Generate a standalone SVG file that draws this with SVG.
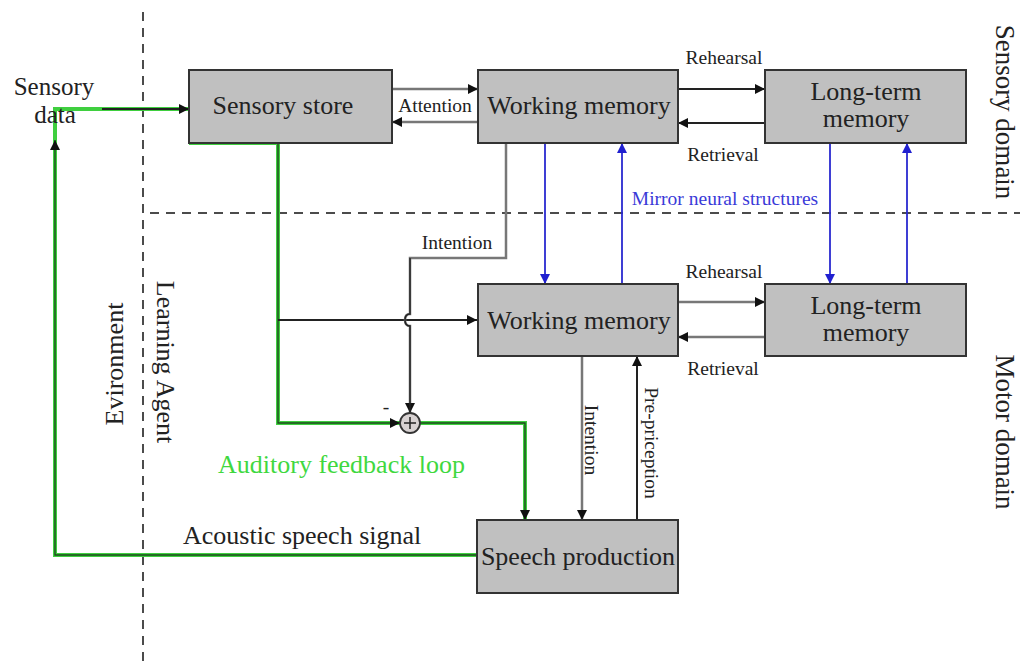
<svg xmlns="http://www.w3.org/2000/svg" width="1020" height="667" viewBox="0 0 1020 667">
  <style>
    text { font-family: "Liberation Serif", "Times New Roman", serif; fill: #222; }
    .big { font-size: 26px; }
    .small { font-size: 19.5px; }
    .box { fill: #c0c0c0; stroke: #333; stroke-width: 2; }
    .divider { fill: none; stroke: #111; stroke-width: 1.5; stroke-dasharray: 9 7; }
    .link { fill: none; stroke: #222; stroke-width: 2; }
    .grey { fill: none; stroke: #777; stroke-width: 2.5; }
    .mirror { fill: none; stroke: #2a2ad0; stroke-width: 1.8; }
    .loop { fill: none; stroke: #3fcf3f; stroke-width: 4; }
    .core { fill: none; stroke: #1e4a1e; stroke-width: 1.4; }
  </style>
  <defs>
    <marker id="arrow" viewBox="0 0 10 10" refX="10" refY="5" markerWidth="10" markerHeight="10" markerUnits="userSpaceOnUse" orient="auto">
      <path d="M0,0 L10,5 L0,10 z" fill="#111"/>
    </marker>
    <marker id="arrowBlue" viewBox="0 0 10 10" refX="10" refY="5" markerWidth="10" markerHeight="10" markerUnits="userSpaceOnUse" orient="auto">
      <path d="M0,0 L10,5 L0,10 z" fill="#2020d0"/>
    </marker>
  </defs>

  <rect width="1020" height="667" fill="#fff"/>

  <!-- boundaries: environment / agent, sensory / motor -->
  <g id="dividers">
    <line class="divider" x1="143" y1="12" x2="143" y2="667"/>
    <line class="divider" x1="150" y1="213" x2="1020" y2="213"/>
  </g>

  <!-- connectors -->
  <g id="connectors">
    <!-- auditory feedback loop -->
    <path class="loop" d="M477,555 H55 V109 H189"/>
    <path class="loop" d="M189,143 H278 V423 H400"/>
    <path class="loop" d="M420,423 H525 V520"/>
    <path class="core" d="M477,555 H55 V140" marker-end="url(#arrow)"/>
    <path class="link" d="M102,109 H189" marker-end="url(#arrow)"/>
    <path class="core" d="M278,143 V423 H400" marker-end="url(#arrow)"/>
    <path class="core" d="M420,423 H525 V520" marker-end="url(#arrow)"/>
    <path class="link" stroke-width="1.4" d="M278,320 H477" marker-end="url(#arrow)"/>

    <!-- attention -->
    <path class="grey" d="M392,89 H478" marker-end="url(#arrow)"/>
    <path class="grey" d="M478,122 H392" marker-end="url(#arrow)"/>

    <!-- sensory rehearsal / retrieval -->
    <path class="link" d="M678,89 H765" marker-end="url(#arrow)"/>
    <path class="link" d="M765,123 H678" marker-end="url(#arrow)"/>

    <!-- motor rehearsal / retrieval -->
    <path class="grey" stroke="#555" d="M678,302 H765" marker-end="url(#arrow)"/>
    <path class="grey" stroke="#555" d="M765,337 H678" marker-end="url(#arrow)"/>

    <!-- intention from sensory working memory to comparator -->
    <path class="grey" stroke-width="2" d="M506,143 V258 H410 V314 Q405,314 405,320 Q405,326 410,326 V413" marker-end="url(#arrow)"/>
    <path d="M410,258 V314 Q405,314 405,320 Q405,326 410,326 V413" fill="none" stroke="#222" stroke-width="1.4"/>

    <!-- mirror neural structures -->
    <path class="mirror" d="M545,143 V284" marker-end="url(#arrowBlue)"/>
    <path class="mirror" stroke="#5050e0" d="M622,284 V143" marker-end="url(#arrowBlue)"/>
    <path class="mirror" d="M830,143 V284" marker-end="url(#arrowBlue)"/>
    <path class="mirror" stroke="#5050e0" d="M907,284 V143" marker-end="url(#arrowBlue)"/>

    <!-- intention / pre-priception between motor memory and speech production -->
    <path class="grey" stroke="#666" stroke-width="2" d="M582,356 V520" marker-end="url(#arrow)"/>
    <path class="link" d="M637,520 V356" marker-end="url(#arrow)"/>
  </g>

  <!-- comparator -->
  <g id="comparator">
    <circle cx="410" cy="423" r="10" fill="#d8d2d2" stroke="#333" stroke-width="1.8"/>
    <path d="M404,423 H416 M410,417 V429" stroke="#222" stroke-width="1.5"/>
    <text x="386" y="413" class="small" text-anchor="middle">-</text>
  </g>

  <!-- nodes -->
  <g id="sensory-store">
    <rect class="box" x="189" y="70" width="203" height="73"/>
    <text class="big" x="283" y="114" text-anchor="middle">Sensory store</text>
  </g>
  <g id="working-memory-sensory">
    <rect class="box" x="478" y="70" width="200" height="73"/>
    <text class="big" x="579" y="114" text-anchor="middle">Working memory</text>
  </g>
  <g id="long-term-memory-sensory">
    <rect class="box" x="765" y="70" width="201" height="73"/>
    <text class="big" x="866" y="100" text-anchor="middle">Long-term</text>
    <text class="big" x="866" y="127" text-anchor="middle">memory</text>
  </g>
  <g id="working-memory-motor">
    <rect class="box" x="478" y="284" width="200" height="72"/>
    <text class="big" x="579" y="329" text-anchor="middle">Working memory</text>
  </g>
  <g id="long-term-memory-motor">
    <rect class="box" x="765" y="284" width="201" height="72"/>
    <text class="big" x="866" y="314" text-anchor="middle">Long-term</text>
    <text class="big" x="866" y="341" text-anchor="middle">memory</text>
  </g>
  <g id="speech-production">
    <rect class="box" x="477" y="520" width="201" height="73"/>
    <text class="big" x="578" y="565" text-anchor="middle">Speech production</text>
  </g>

  <!-- labels -->
  <g id="labels">
    <text class="big" x="54" y="95" text-anchor="middle" style="font-size:25px">Sensory</text>
    <text class="big" x="55" y="123" text-anchor="middle" style="font-size:25px">data</text>
    <text class="small" x="435" y="112" text-anchor="middle">Attention</text>
    <text class="small" x="724" y="64" text-anchor="middle">Rehearsal</text>
    <text class="small" x="723" y="161" text-anchor="middle">Retrieval</text>
    <text class="small" x="724" y="278" text-anchor="middle">Rehearsal</text>
    <text class="small" x="723" y="375" text-anchor="middle">Retrieval</text>
    <text class="small" x="457" y="249" text-anchor="middle">Intention</text>
    <text class="small" x="725" y="205" text-anchor="middle" style="fill:#3a3ad8">Mirror neural structures</text>
    <text class="small" x="591" y="440" text-anchor="middle" dominant-baseline="central" transform="rotate(90 591 440)">Intention</text>
    <text class="small" x="651" y="443" text-anchor="middle" dominant-baseline="central" transform="rotate(90 651 443)">Pre-priception</text>
    <text class="big" x="218" y="473" style="fill:#3fd83f">Auditory feedback loop</text>
    <text class="big" x="183" y="544">Acoustic speech signal</text>
    <text class="big" x="114" y="364" text-anchor="middle" dominant-baseline="central" transform="rotate(-90 114 364)">Evironment</text>
    <text class="big" x="165" y="362" text-anchor="middle" dominant-baseline="central" transform="rotate(90 165 362)">Learning Agent</text>
    <text class="big" x="1005" y="112" text-anchor="middle" dominant-baseline="central" style="font-size:27px" transform="rotate(90 1005 112)">Sensory domain</text>
    <text class="big" x="1005" y="432" text-anchor="middle" dominant-baseline="central" style="font-size:27px" transform="rotate(90 1005 432)">Motor domain</text>
  </g>
</svg>
